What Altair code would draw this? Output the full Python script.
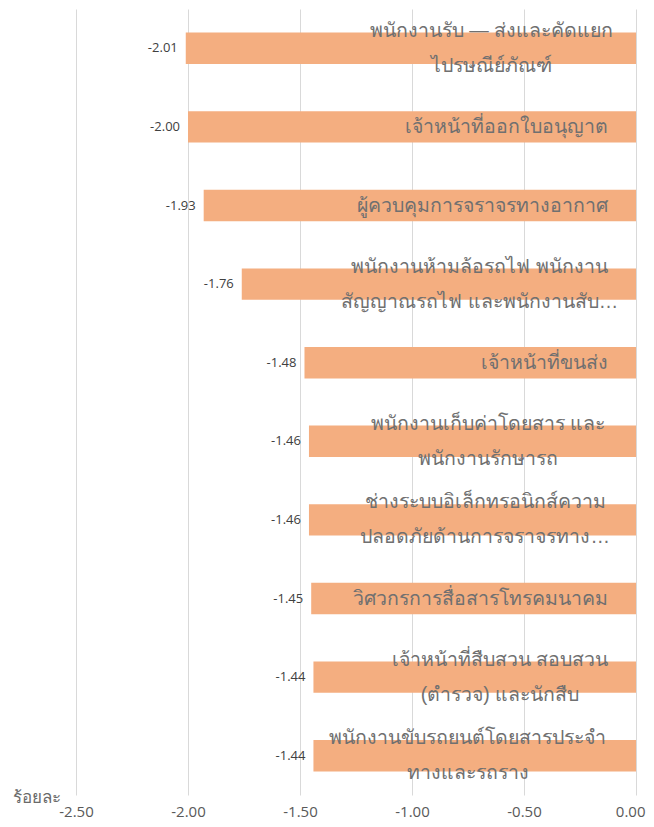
import altair as alt
import pandas as pd

# ---- data ----
line1 = [
    "พนักงานรับ — ส่งและคัดแยก",
    "เจ้าหน้าที่ออกใบอนุญาต",
    "ผู้ควบคุมการจราจรทางอากาศ",
    "พนักงานห้ามล้อรถไฟ  พนักงาน",
    "เจ้าหน้าที่ขนส่ง",
    "พนักงานเก็บค่าโดยสาร และ",
    "ช่างระบบอิเล็กทรอนิกส์ความ",
    "วิศวกรการสื่อสารโทรคมนาคม",
    "เจ้าหน้าที่สืบสวน สอบสวน",
    "พนักงานขับรถยนต์โดยสารประจำ",
]
line2 = [
    "ไปรษณีย์ภัณฑ์",
    "",
    "",
    "สัญญาณรถไฟ และพนักงานสับ…",
    "",
    "พนักงานรักษารถ",
    "ปลอดภัยด้านการจราจรทาง…",
    "",
    "(ตำรวจ) และนักสืบ",
    "ทางและรถราง",
]
values = [-2.01, -2.00, -1.93, -1.76, -1.48, -1.46, -1.46, -1.45, -1.44, -1.44]
x_ticks = [-2.5, -2.0, -1.5, -1.0, -0.5, 0.0]
axis_title = "ร้อยละ"

# ---- layout constants ----
W, H = 560, 786
LABEL_FONT = 19.5
LABEL_GAP = 28
LINE_H = 35
PX_PER_UNIT = W / 2.5
COMBINING = set("\u0e31\u0e34\u0e35\u0e36\u0e37\u0e38\u0e39\u0e3a\u0e47\u0e48\u0e49\u0e4a\u0e4b\u0e4c\u0e4d\u0e4e")


def est_width(s):
    w = 0.0
    for ch in s:
        if ch in COMBINING:
            continue
        if ch == " ":
            w += 0.28
        elif "\u0e00" <= ch <= "\u0e7f":
            w += 0.60
        else:
            w += 0.6
    return w * LABEL_FONT


rows = []
for i, (a, b, v) in enumerate(zip(line1, line2, values)):
    label = a + ("\n" + b if b else "")
    cx = -(LABEL_GAP + est_width(a) / 2) / PX_PER_UNIT
    rows.append({
        "key": i, "label": label, "two": bool(b), "value": v,
        "vtext": f"{v:.2f}", "cx": cx, "zero": 0.0,
    })
df = pd.DataFrame(rows)

xscale = alt.Scale(domain=[-2.5, 0], nice=False, zero=False)
yscale = alt.Scale(paddingInner=0.6, paddingOuter=0.3)
yenc = alt.Y("key:O", sort=None, axis=None, scale=yscale)

base = alt.Chart(df)

bars = base.mark_bar(color="#F4AE80").encode(
    x=alt.X(
        "value:Q",
        scale=xscale,
        axis=alt.Axis(
            values=x_ticks,
            labelExpr="replace(format(datum.value, '.2f'), '\u2212', '-')",
            grid=True,
            gridColor="#D9D9D9",
            domain=False,
            ticks=False,
            labelFontSize=15,
            labelFont="Open Sans",
            labelColor="#595959",
            labelBaseline="alphabetic",
            labelPadding=21,
            labelFlush=False,
            labelAlign=alt.expr("datum.value == 0 ? 'right' : 'center'"),
            labelOffset=alt.expr("datum.value == 0 ? 9 : 0"),
            title=axis_title,
            titleFontSize=17,
            titleFontWeight="normal",
            titleColor="#6A6A6A",
            titleAnchor="start",
            titleAlign="left",
            titleBaseline="middle",
            titleX=-64,
            titleY=2,
        ),
    ),
    x2=alt.X2("zero:Q"),
    y=yenc,
)

vals = base.mark_text(
    align="right", baseline="middle", dx=-8, fontSize=13, font="Open Sans", color="#404040"
).encode(
    x=alt.X("value:Q", scale=xscale),
    y=yenc,
    text="vtext:N",
)

single = base.transform_filter("!datum.two").mark_text(
    align="right", baseline="middle", dx=-LABEL_GAP, fontSize=LABEL_FONT, color="#707070"
).encode(
    x=alt.X("zero:Q", scale=xscale),
    y=yenc,
    text="label:N",
)

double = base.transform_filter("datum.two").mark_text(
    align="center", baseline="middle", lineBreak="\n", lineHeight=LINE_H,
    dy=-LINE_H / 2, fontSize=LABEL_FONT, color="#707070"
).encode(
    x=alt.X("cx:Q", scale=xscale),
    y=yenc,
    text="label:N",
)

chart = (
    alt.layer(bars, vals, single, double)
    .properties(
        width=W,
        height=H,
        autosize=alt.AutoSizeParams(type="none"),
        padding={"left": 68, "top": 1, "right": 10, "bottom": 24},
    )
    .configure_view(stroke=None)
)

chart.save("out.html", embed_options={"renderer": "svg", "actions": False})
